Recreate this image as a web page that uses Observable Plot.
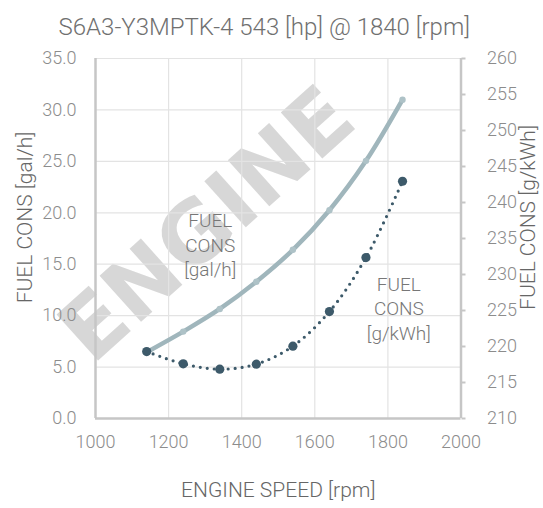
<!DOCTYPE html>
<html>
<head>
<meta charset="utf-8">
<script src="https://cdn.jsdelivr.net/npm/d3@7"></script>
<script src="https://cdn.jsdelivr.net/npm/@observablehq/plot@0.6"></script>
<style>
  html, body { margin: 0; padding: 0; background: #ffffff; }
  #chart svg { display: block; }
</style>
</head>
<body>
<div id="chart"></div>
<script>
const rpm  = [1140, 1240, 1340, 1440, 1540, 1640, 1740, 1840];
const galh = [6.45, 8.45, 10.65, 13.3, 16.4, 20.25, 25.05, 31.0];
const gkwh = [219.3, 217.6, 216.85, 217.55, 220.05, 224.85, 232.35, 242.95];

const title = "S6A3-Y3MPTK-4 543 [hp] @ 1840 [rpm]";
const xTicks = [1000, 1200, 1400, 1600, 1800, 2000];
const leftTicks = [0, 5, 10, 15, 20, 25, 30, 35];
const rightTicks = [210, 215, 220, 225, 230, 235, 240, 245, 250, 255, 260];

// map g/kWh onto the gal/h scale (210..260 -> 0..35)
const toLeft = v => (v - 210) * 35 / 50;
const toRight = v => Math.round(v * 50 / 35 + 210);

const data = rpm.map((r, i) => ({rpm: r, gal: galh[i], g: gkwh[i], gy: toLeft(gkwh[i])}));

const font = "Roboto, 'Noto Sans', sans-serif";
const tickColor = "#8c8c8c";
const axisLine = "#c6c6c6";
const gridColor = "#e3e3e3";
const lightLine = "#a0b6bc";
const darkLine = "#3d5a6a";

const chart = Plot.plot({
  width: 543,
  height: 508,
  marginTop: 58,
  marginBottom: 90,
  marginLeft: 95,
  marginRight: 82.5,
  style: {fontFamily: font, fontWeight: 300, background: "#ffffff"},
  x: {domain: [1000, 2000]},
  y: {domain: [0, 35]},
  marks: [
    // watermark
    Plot.text(["ENGINE"], {frameAnchor: "top-left", dx: 90, dy: 142, rotate: -42, fontSize: 85, fontWeight: 700, fill: "#cdcdcd", fillOpacity: 0.8, textAnchor: "middle", fontFamily: "'DejaVu Sans', sans-serif"}),
    // grid
    Plot.gridX([1200, 1400, 1600, 1800], {stroke: gridColor, strokeOpacity: 1, strokeWidth: 1.2}),
    Plot.gridY([5, 10, 15, 20, 25, 30, 35], {stroke: gridColor, strokeOpacity: 1, strokeWidth: 1.2}),
    // frame lines
    Plot.ruleX([1000], {stroke: axisLine, strokeWidth: 2.5}),
    Plot.ruleX([2000], {stroke: axisLine, strokeWidth: 2.5}),
    Plot.ruleY([0], {stroke: axisLine, strokeWidth: 2.5}),
    // axes
    Plot.axisY(leftTicks, {anchor: "left", tickSize: 0, tickPadding: 19, tickFormat: d => d.toFixed(1), fontSize: 18, fill: tickColor, label: null}),
    Plot.axisY(rightTicks.map(toLeft), {anchor: "right", tickSize: 4, tickPadding: 22, tickFormat: d => String(toRight(d)), fontSize: 18, fill: tickColor, stroke: axisLine, strokeWidth: 2, label: null}),
    Plot.axisX(xTicks, {anchor: "bottom", tickSize: 0, tickPadding: 17, tickFormat: d => String(d), fontSize: 18, fill: tickColor, label: null}),
    // series
    Plot.line(data, {x: "rpm", y: "gal", stroke: lightLine, strokeWidth: 4.5, curve: "catmull-rom"}),
    Plot.dot(data, {x: "rpm", y: "gal", r: 3.2, fill: "#aec2c7", stroke: null}),
    Plot.line(data, {x: "rpm", y: "gy", stroke: darkLine, strokeWidth: 3.2, strokeDasharray: "0 7", strokeLinecap: "round", curve: "catmull-rom"}),
    Plot.dot(data, {x: "rpm", y: "gy", r: 4.6, fill: darkLine, stroke: null}),
    // in-chart labels
    Plot.text([{x: 1314, y: 17.0, t: "FUEL\nCONS\n[gal/h]"}], {x: "x", y: "y", text: "t", fontSize: 19, lineHeight: 1.3, fill: "#777777"}),
    Plot.text([{x: 1830, y: 10.8, t: "FUEL\nCONS\n[g/kWh]"}], {x: "x", y: "y", text: "t", fontSize: 19, lineHeight: 1.3, fill: "#777777"}),
    // axis titles
    Plot.text(["FUEL CONS [gal/h]"], {frameAnchor: "left", dx: -70, dy: -21, rotate: -90, fontSize: 21, fill: "#666666", textAnchor: "middle"}),
    Plot.text(["FUEL CONS [g/kWh]"], {frameAnchor: "right", dx: 67, dy: -21, rotate: -90, fontSize: 21, fill: "#666666", textAnchor: "middle"}),
    Plot.text(["ENGINE SPEED [rpm]"], {frameAnchor: "bottom", dy: 78, fontSize: 21, fill: "#666666", textAnchor: "middle"}),
    // title
    Plot.text([title], {frameAnchor: "top", dx: -14, dy: -41, fontSize: 24, fill: "#707070", textAnchor: "middle"})
  ]
});
document.getElementById("chart").appendChild(chart);
</script>
</body>
</html>
